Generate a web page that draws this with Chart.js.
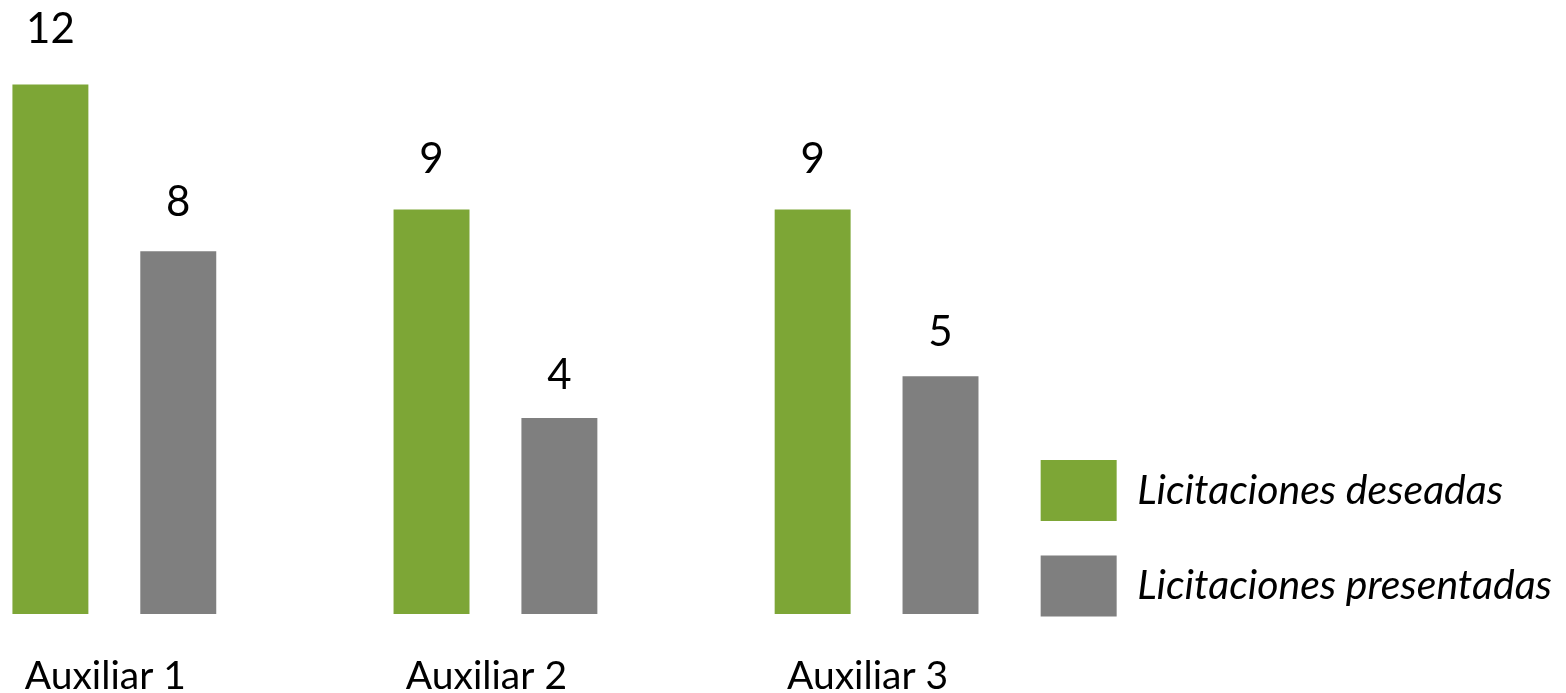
<!DOCTYPE html>
<html>
<head>
<meta charset="utf-8">
<script src="https://cdn.jsdelivr.net/npm/chart.js@4.4.1/dist/chart.umd.min.js"></script>
<style>
html,body{margin:0;padding:0;background:#ffffff;overflow:hidden}
canvas{display:block}
</style>
</head>
<body>
<canvas id="c" width="1566" height="693"></canvas>
<script>
const categories = ['Auxiliar 1', 'Auxiliar 2', 'Auxiliar 3'];
const seriesNames = ['Licitaciones deseadas', 'Licitaciones presentadas'];
const deseadas = [12, 9, 9];
const presentadas = [8, 4, 5];
const seriesColors = ['#7DA636', '#7F7F7F'];

const toPoints = arr => arr.map((v, i) => ({ x: i, y: v }));

const valueLabels = {
  id: 'valueLabels',
  afterDatasetsDraw(chart) {
    const ctx = chart.ctx;
    ctx.save();
    ctx.font = '42px Lato';
    ctx.fillStyle = '#000000';
    ctx.textAlign = 'center';
    ctx.textBaseline = 'alphabetic';
    chart.data.datasets.forEach((ds, di) => {
      const meta = chart.getDatasetMeta(di);
      meta.data.forEach((bar, i) => {
        const v = ds.data[i].y;
        ctx.fillText(String(v), bar.x, bar.y - (22.5 + 1.6 * v));
      });
    });
    ctx.restore();
  }
};

Chart.defaults.font.family = 'Lato';
Chart.defaults.color = '#000000';

new Chart(document.getElementById('c'), {
  type: 'bar',
  data: {
    datasets: [
      { label: seriesNames[0], data: toPoints(deseadas), backgroundColor: seriesColors[0],
        base: -0.7, categoryPercentage: 0.671, barPercentage: 0.594 },
      { label: seriesNames[1], data: toPoints(presentadas), backgroundColor: seriesColors[1],
        base: -0.7, categoryPercentage: 0.671, barPercentage: 0.594 }
    ]
  },
  options: {
    responsive: false,
    animation: false,
    layout: { padding: { top: 1, right: 4, bottom: 0, left: 0 } },
    scales: {
      x: {
        type: 'linear',
        min: -0.3,
        max: 2.34,
        offset: false,
        grid: { display: false, drawTicks: true, tickLength: 45 },
        border: { display: false },
        ticks: {
          stepSize: 1,
          includeBounds: false,
          autoSkip: false,
          maxRotation: 0,
          padding: 0,
          labelOffset: -9,
          color: '#000000',
          font: { family: 'Lato', size: 39, lineHeight: '34px' },
          callback: v => Number.isInteger(v) ? categories[v] : ''
        }
      },
      y: { display: false, min: -0.7, max: 14 }
    },
    plugins: {
      legend: {
        position: 'right',
        align: 'start',
        title: { display: true, text: '', padding: { top: 414.5, bottom: 0 }, font: { size: 10, lineHeight: 1 } },
        labels: {
          boxWidth: 76,
          boxHeight: 61,
          padding: 34.5,
          color: '#000000',
          font: { family: 'Lato', size: 41, style: 'italic' }
        }
      },
      tooltip: { enabled: false }
    }
  },
  plugins: [valueLabels]
});
</script>
</body>
</html>
